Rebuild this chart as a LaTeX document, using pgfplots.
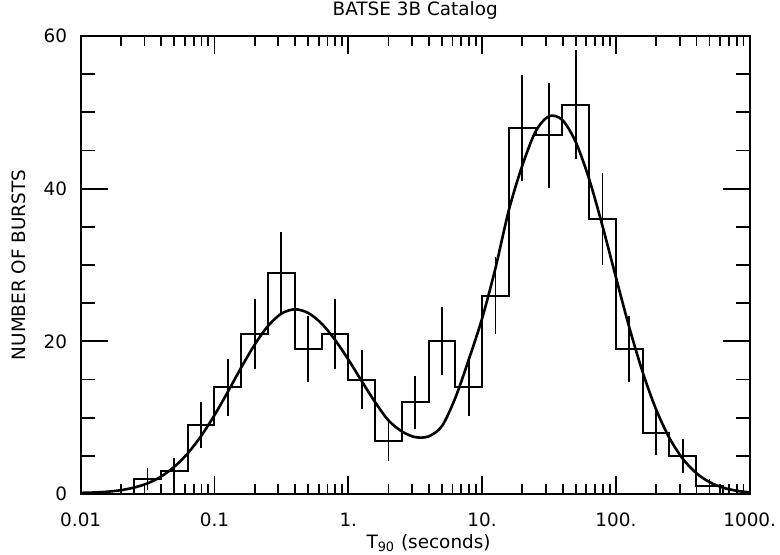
\documentclass[border=0pt]{standalone}
\usepackage{fontspec}
\setmainfont{DejaVu Sans}
\usepackage{pgfplots}
\pgfplotsset{compat=1.18}
\begin{document}
\begin{tikzpicture}
\path[use as bounding box] (-40.35pt,-30pt) rectangle (349.65pt,247pt);
\begin{axis}[
  at={(0,0)}, anchor=south west,
  scale only axis, width=334.5pt, height=229pt,
  xmode=log, xmin=0.01, xmax=1000, ymin=0, ymax=60,
  axis line style={line width=1pt},
  every tick/.style={black, line width=0.9pt},
  major tick length=9pt, minor tick length=5pt,
  ytick style={/pgfplots/major tick length=13.5pt,/pgfplots/minor tick length=7pt},
  xtick={0.01,0.1,1,10,100,1000},
  xticklabels={0.01,0.1,1.,10.,100.,1000.},
  minor xtick={0.02,0.03,0.04,0.05,0.06,0.07,0.08,0.09,0.2,0.3,0.4,0.5,0.6,0.7,0.8,0.9,2,3,4,5,6,7,8,9,20,30,40,50,60,70,80,90,200,300,400,500,600,700,800,900},
  ytick={0,20,40,60},
  yticklabels={0,20,40,60},
  minor ytick={5,10,15,25,30,35,45,50,55},
  tick align=inside,
  tick label style={font=\fontsize{9.2}{11}\selectfont},
  xticklabel style={yshift=-6pt},
  yticklabel style={xshift=-3.3pt},
  title={BATSE 3B Catalog},
  title style={at={(axis description cs:0.5,1)}, anchor=base, yshift=4.5pt, font=\fontsize{9.2}{11}\selectfont},
  xlabel={T\textsubscript{90} (seconds)},
  xlabel style={at={(axis description cs:0.52,0)}, anchor=base, yshift=-27pt, font=\fontsize{9.2}{11}\selectfont},
  ylabel={NUMBER OF BURSTS},
  ylabel style={at={(axis description cs:-0.0922,0.5)}, anchor=center, font=\fontsize{9.2}{11}\selectfont},
  clip=false,
]
% histogram (bin left edges, 0.2 dex bins)
\addplot[const plot mark left, black, line width=1pt, mark=none] coordinates {
(0.01,0) (0.015849,0) (0.025119,2) (0.039811,3) (0.063096,9) (0.1,14)
(0.15849,21) (0.25119,29) (0.39811,19) (0.63096,21) (1,15) (1.5849,7)
(2.5119,12) (3.9811,20) (6.3096,14) (10,26) (15.849,48) (25.119,47)
(39.811,51) (63.096,36) (100,19) (158.49,8) (251.19,5) (398.11,1)
(630.96,0) (1000,0)
};
% error bars at bin centres
\addplot[draw=none, mark=none,
  error bars/.cd, y dir=both, y explicit, error mark=none,
  error bar style={draw=black, solid, line width=0.9pt}] coordinates {
(0.031623,2) +- (0,1.414)
(0.050119,3) +- (0,1.732)
(0.079433,9) +- (0,3.0)
(0.12589,14) +- (0,3.742)
(0.19953,21) +- (0,4.583)
(0.31623,29) +- (0,5.385)
(0.50119,19) +- (0,4.359)
(0.79433,21) +- (0,4.583)
(1.2589,15) +- (0,3.873)
(1.9953,7) +- (0,2.646)
(3.1623,12) +- (0,3.464)
(5.0119,20) +- (0,4.472)
(7.9433,14) +- (0,3.742)
(12.589,26) +- (0,5.099)
(19.953,48) +- (0,6.928)
(31.623,47) +- (0,6.856)
(50.119,51) +- (0,7.141)
(79.433,36) +- (0,6.0)
(125.89,19) +- (0,4.359)
(199.53,8) +- (0,2.828)
(316.23,5) +- (0,2.236)
(501.19,1) +- (0,1.0)
};
% fitted curve
\addplot[black, line width=1.3pt, smooth, mark=none] coordinates {
(0.01,0.15) (0.012589,0.20) (0.015849,0.30) (0.019953,0.50) (0.025119,0.85)
(0.031623,1.40) (0.039811,2.28) (0.050119,3.57) (0.063096,5.33) (0.079433,7.60)
(0.1,10.33) (0.12589,13.40) (0.15849,16.58) (0.19953,19.56) (0.25119,22.02)
(0.31623,23.63) (0.39811,24.20) (0.50119,23.72) (0.63096,22.34) (0.79433,20.21)
(1,17.62) (1.2589,14.80) (1.5849,12.05) (1.9953,9.65) (2.5119,8.20)
(3.1623,7.45) (3.9811,7.55) (5.0119,8.90) (6.3096,12.60) (7.9433,17.60)
(10,23.00) (12.589,29.60) (15.849,37.20) (19.953,43.00) (25.119,47.50)
(31.623,49.50) (39.811,49.00) (50.119,46.11) (63.096,41.26) (79.433,35.10)
(100,28.40) (125.89,21.83) (158.49,15.97) (199.53,11.10) (251.19,7.34)
(316.23,4.61) (398.11,2.75) (501.19,1.56) (630.96,0.84) (794.33,0.43) (1000,0.21)
};
\end{axis}
\end{tikzpicture}
\end{document}
